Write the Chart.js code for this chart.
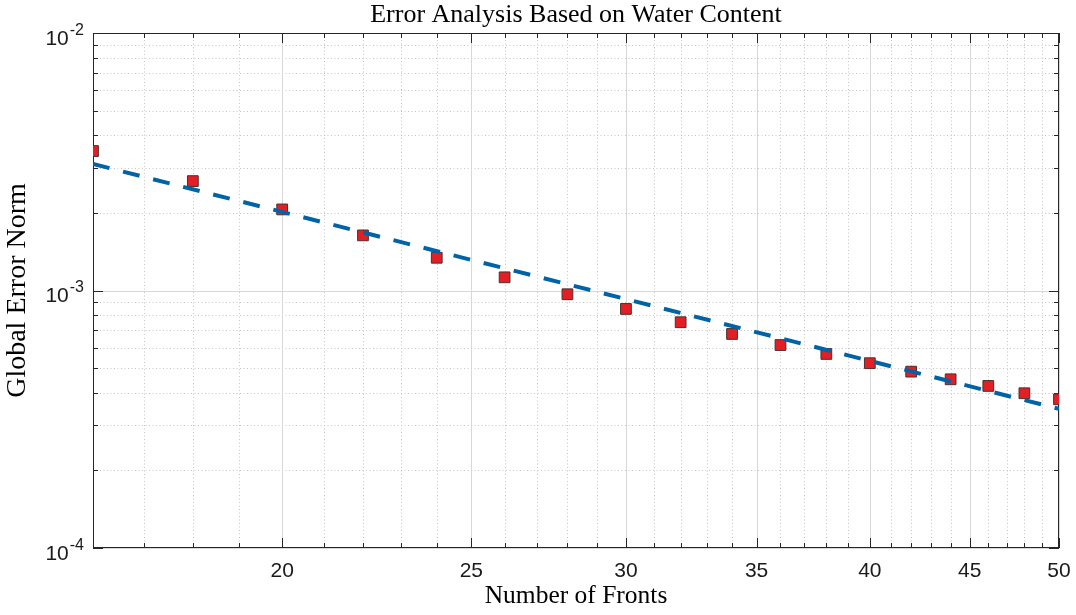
<!DOCTYPE html>
<html>
<head>
<meta charset="utf-8">
<script src="https://cdn.jsdelivr.net/npm/chart.js@4.4.1/dist/chart.umd.min.js"></script>
<style>
html,body{margin:0;padding:0;background:#ffffff;}
#wrap{width:1076px;height:615px;position:relative;}
</style>
</head>
<body>
<div id="wrap"><canvas id="c" width="1076" height="615"></canvas></div>
<script>
// ---- data ----
const fronts = [16, 18, 20, 22, 24, 26, 28, 30, 32, 34, 36, 38, 40, 42, 44, 46, 48, 50];
const errorNorm = [3.48e-3, 2.66e-3, 2.065e-3, 1.637e-3, 1.34e-3, 1.125e-3, 9.67e-4, 8.48e-4, 7.53e-4,
                   6.78e-4, 6.14e-4, 5.67e-4, 5.22e-4, 4.84e-4, 4.52e-4, 4.26e-4, 3.99e-4, 3.78e-4];
const fitFronts = [16, 50];
const fitError = [3.10e-3, 3.47e-4];

const xMajorTicks = [20, 25, 30, 35, 40, 45, 50];
const xMinorTicks = [17, 18, 19, 21, 22, 23, 24, 26, 27, 28, 29, 31, 32, 33, 34, 36, 37, 38, 39,
                     41, 42, 43, 44, 46, 47, 48, 49];
const yMajorTicks = [1e-4, 1e-3, 1e-2];
const yTickBase = '10';
const yTickExponents = ['-4', '-3', '-2'];
const yMinorTicks = [2e-4, 3e-4, 4e-4, 5e-4, 6e-4, 7e-4, 8e-4, 9e-4,
                     2e-3, 3e-3, 4e-3, 5e-3, 6e-3, 7e-3, 8e-3, 9e-3];

const titleText = 'Error Analysis Based on Water Content';
const xTitle = 'Number of Fronts';
const yTitle = 'Global Error Norm';

// ---- styles ----
const serif = "'Liberation Serif', 'Times New Roman', serif";
const sans = "'Liberation Sans', 'DejaVu Sans', Arial, sans-serif";
const axisColor = '#262626';

const frameGrid = {
  id: 'frameGrid',
  beforeDatasetsDraw(chart) {
    const {ctx, chartArea: a, scales: {x, y}} = chart;
    const px = v => Math.round(x.getPixelForValue(v)) + 0.5;
    const py = v => Math.round(y.getPixelForValue(v)) + 0.5;
    ctx.save();
    ctx.lineWidth = 1;
    // minor grid (dotted)
    ctx.strokeStyle = '#c4c4c4';
    ctx.setLineDash([1, 2.5]);
    ctx.beginPath();
    xMinorTicks.forEach(v => { const p = px(v); ctx.moveTo(p, a.top); ctx.lineTo(p, a.bottom); });
    yMinorTicks.forEach(v => { const p = py(v); ctx.moveTo(a.left, p); ctx.lineTo(a.right, p); });
    ctx.stroke();
    // major grid (solid)
    ctx.setLineDash([]);
    ctx.strokeStyle = '#d8d8d8';
    ctx.beginPath();
    xMajorTicks.forEach(v => { const p = px(v); ctx.moveTo(p, a.top); ctx.lineTo(p, a.bottom); });
    yMajorTicks.forEach(v => { const p = py(v); ctx.moveTo(a.left, p); ctx.lineTo(a.right, p); });
    ctx.stroke();
    // frame
    ctx.strokeStyle = axisColor;
    ctx.strokeRect(a.left + 0.5, a.top + 0.5, a.right - a.left - 1, a.bottom - a.top - 1);
    // inward ticks
    ctx.beginPath();
    const xt = (v, len) => { const p = px(v); ctx.moveTo(p, a.bottom); ctx.lineTo(p, a.bottom - len); ctx.moveTo(p, a.top); ctx.lineTo(p, a.top + len); };
    const yt = (v, len) => { const p = py(v); ctx.moveTo(a.left, p); ctx.lineTo(a.left + len, p); ctx.moveTo(a.right, p); ctx.lineTo(a.right - len, p); };
    xMajorTicks.forEach(v => xt(v, 10));
    xMinorTicks.forEach(v => xt(v, 5));
    yMajorTicks.forEach(v => yt(v, 10));
    yMinorTicks.forEach(v => yt(v, 5));
    ctx.stroke();
    ctx.restore();
  },
  afterDraw(chart) {
    const {ctx, chartArea: a, scales: {y}} = chart;
    ctx.save();
    // title
    ctx.font = '26px ' + serif;
    ctx.fillStyle = '#000000';
    ctx.textAlign = 'center';
    ctx.textBaseline = 'middle';
    ctx.fillText(titleText, (a.left + a.right) / 2, 15);
    // y tick labels: 10 with superscript exponent
    ctx.fillStyle = '#1a1a1a';
    ctx.textBaseline = 'alphabetic';
    ctx.textAlign = 'left';
    const right = a.left - 9;
    yMajorTicks.forEach((v, i) => {
      const p = y.getPixelForValue(v);
      ctx.font = '16px ' + sans;
      const wSup = ctx.measureText(yTickExponents[i]).width;
      ctx.font = '21px ' + sans;
      const wBase = ctx.measureText(yTickBase).width;
      const xBase = right - wSup - wBase - 1;
      ctx.fillText(yTickBase, xBase, p + 11.5);
      ctx.font = '16px ' + sans;
      ctx.fillText(yTickExponents[i], xBase + wBase + 1, p + 1.5);
    });
    ctx.restore();
  }
};

const markerData = fronts.map((f, i) => ({x: f, y: errorNorm[i]}));
const fitData = fitFronts.map((f, i) => ({x: f, y: fitError[i]}));

new Chart(document.getElementById('c'), {
  type: 'scatter',
  data: {
    datasets: [
      {
        label: 'Fit',
        data: fitData,
        showLine: true,
        borderColor: '#0063a6',
        borderWidth: 4,
        borderDash: [17, 14],
        pointRadius: 0,
        fill: false,
        order: 0
      },
      {
        label: 'Error',
        data: markerData,
        showLine: false,
        pointStyle: 'rect',
        pointRadius: 7.6,
        backgroundColor: '#e31e24',
        borderColor: '#4a3030',
        borderWidth: 1,
        order: 1
      }
    ]
  },
  options: {
    responsive: false,
    animation: false,
    devicePixelRatio: 1,
    layout: {padding: {top: 33, right: 17, left: 0, bottom: 0}},
    plugins: {legend: {display: false}, title: {display: false}, tooltip: {enabled: false}},
    scales: {
      x: {
        type: 'logarithmic',
        min: 16, max: 50,
        afterBuildTicks: s => { s.ticks = xMajorTicks.concat(xMinorTicks).sort((a, b) => a - b).map(v => ({value: v})); },
        afterFit: s => { s.height = 67; s.paddingLeft = 0; s.paddingRight = 0; },
        grid: {display: false, drawTicks: false},
        border: {display: false},
        ticks: {
          autoSkip: false, maxRotation: 0, padding: 11, color: '#1a1a1a',
          font: {family: sans, size: 21},
          callback: v => xMajorTicks.includes(v) ? String(v) : ''
        },
        title: {display: true, text: xTitle, color: '#000000', font: {family: serif, size: 25.5}, padding: {top: 0, bottom: 3}}
      },
      y: {
        type: 'logarithmic',
        min: 1e-4, max: 1e-2,
        afterBuildTicks: s => { s.ticks = yMajorTicks.concat(yMinorTicks).sort((a, b) => a - b).map(v => ({value: v})); },
        afterFit: s => { s.width = 93; s.paddingTop = 0; s.paddingBottom = 0; },
        grid: {display: false, drawTicks: false},
        border: {display: false},
        ticks: {
          autoSkip: false, padding: 8, color: axisColor,
          font: {family: sans, size: 19},
          callback: () => ''
        },
        title: {display: true, text: yTitle, color: '#000000', font: {family: serif, size: 28}, padding: {top: 1, bottom: 0}}
      }
    }
  },
  plugins: [frameGrid]
});
</script>
</body>
</html>
